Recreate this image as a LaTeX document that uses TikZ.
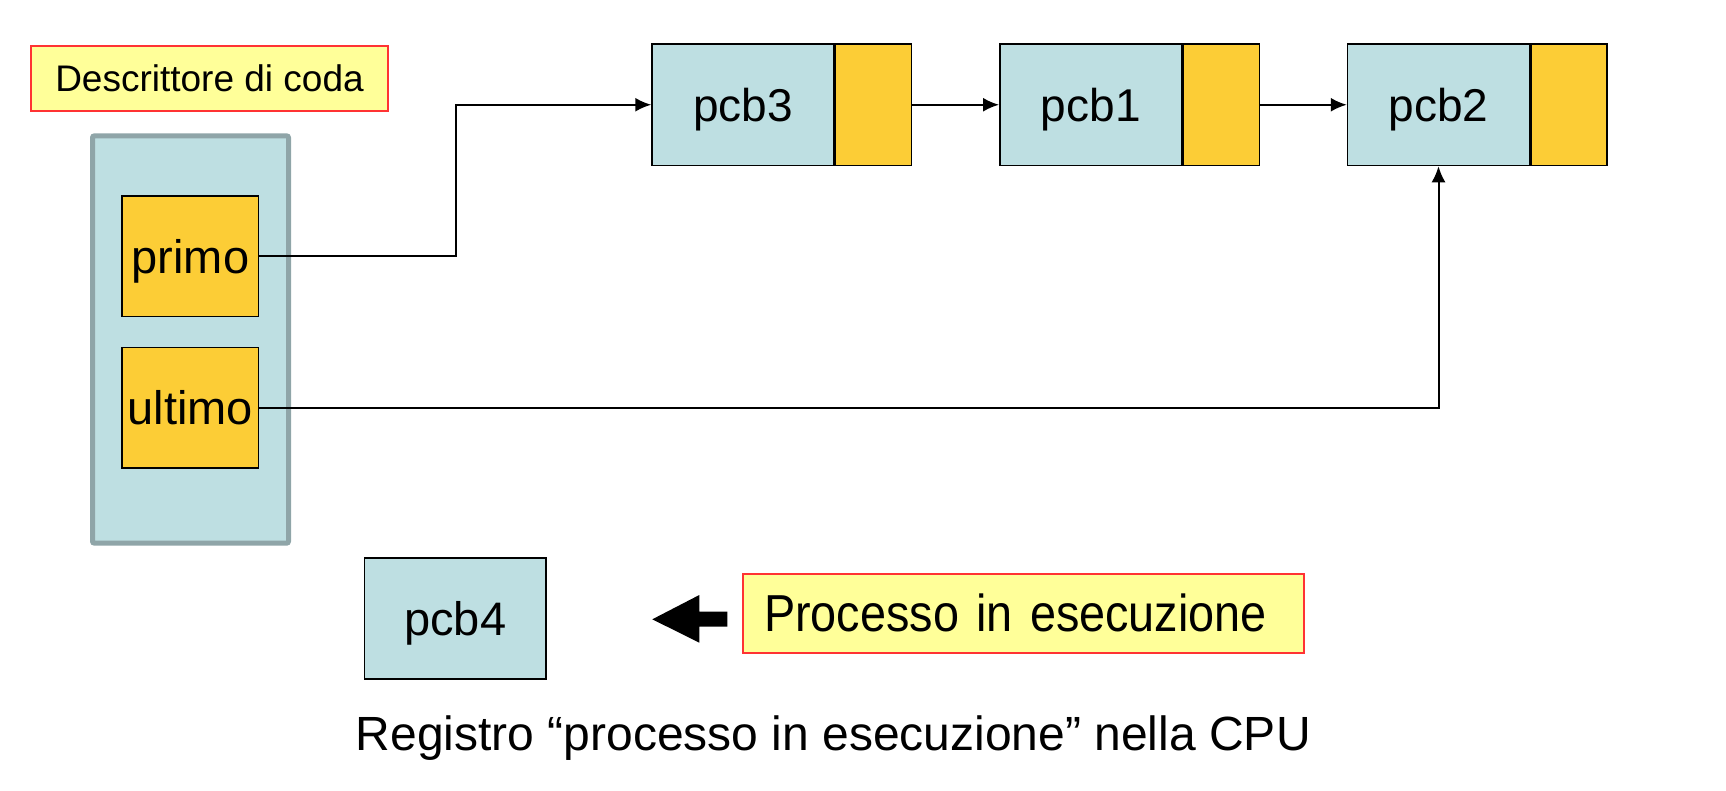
\documentclass[tikz,border=0pt]{standalone}
\usepackage{fontspec}
\setmainfont{Liberation Sans}
\newfontfamily\condfont[FakeStretch=0.9]{Liberation Sans}
\usetikzlibrary{arrows.meta}
\definecolor{pcbteal}{HTML}{BEDFE2}
\definecolor{pcborange}{HTML}{FCCD36}
\definecolor{noteyellow}{HTML}{FFFF99}
\definecolor{notered}{HTML}{FF3333}
\definecolor{contgrey}{HTML}{8FA5A8}
\tikzset{
  pcbbox/.style={draw=black, line width=1.5pt, fill=pcbteal, minimum width=182pt, minimum height=121.5pt, inner sep=0pt, font=\fontsize{46}{50}\selectfont, text depth=0pt},
  ptrbox/.style={draw=black, line width=1.5pt, fill=pcborange, minimum width=76pt, minimum height=121.5pt, inner sep=0pt},
  fieldbox/.style={draw=black, line width=1.5pt, fill=pcborange, minimum width=136.5pt, minimum height=120.5pt, inner sep=0pt, font=\fontsize{47}{50}\selectfont, text depth=0pt},
  notebox/.style={draw=notered, line width=2pt, fill=noteyellow, inner sep=0pt, text depth=0pt},
  arr/.style={line width=2pt, -{Latex[length=16pt,width=14pt]}},
}
\begin{document}
\begin{tikzpicture}[x=1pt,y=-1pt]
\useasboundingbox (0,0) rectangle (1726,790);

% queue descriptor label
\node[notebox, minimum width=357pt, minimum height=65pt, font=\fontsize{37}{40}\selectfont] (desclabel) at (209.5,78.5) {Descrittore di coda};

% descriptor container
\node[draw=contgrey, line width=5pt, fill=pcbteal, rounded corners=2pt, minimum width=196pt, minimum height=407.4pt, inner sep=0pt] (desc) at (190.5,339.5) {};
\node[fieldbox] (primo) at (190.45,256.25) {primo};
\node[fieldbox] (ultimo) at (190.45,407.75) {ultimo};

% PCB list
\node[pcbbox] (pcb3) at (743,104.75) {pcb3};
\node[ptrbox, anchor=west] (p3) at (pcb3.east) {};
\node[pcbbox] (pcb1) at (1090.75,104.75) {pcb1};
\node[ptrbox, anchor=west] (p1) at (pcb1.east) {};
\node[pcbbox] (pcb2) at (1438.5,104.75) {pcb2};
\node[ptrbox, anchor=west] (p2) at (pcb2.east) {};

% connectors
\draw[arr] (primo.east) -- ++(196.3,0) |- (pcb3.west);
\draw[arr] (p3.east) -- (pcb1.west);
\draw[arr] (p1.east) -- (pcb2.west);
\draw[arr] (ultimo.east) -| (pcb2.south);

% running process
\node[pcbbox, minimum width=181.6pt, minimum height=121.1pt, font=\fontsize{47}{50}\selectfont] (pcb4) at (455.2,618.65) {pcb4};
\node[notebox, anchor=west, minimum height=79.3pt, text width=519.4pt, inner xsep=21pt, align=left, font=\condfont\fontsize{52}{56}\selectfont] (proc) at (742,613.15) {Processo in esecuzione};
\fill[black] (652.3,619.3) -- (699.3,595) -- (699.3,611.7) -- (727.3,611.7) -- (727.3,626.7) -- (699.3,626.7) -- (699.3,642.7) -- cycle;

\node[anchor=base, font=\fontsize{48}{52}\selectfont, inner sep=0pt] (caption) at (833.3,750.7) {Registro “processo in esecuzione” nella CPU};
\end{tikzpicture}
\end{document}
